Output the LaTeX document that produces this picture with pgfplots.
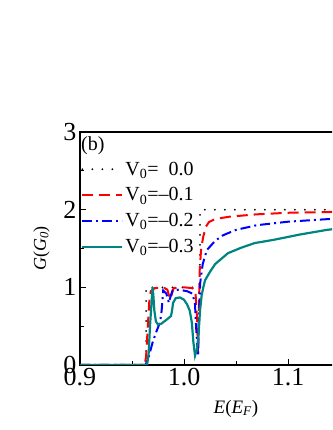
\documentclass[border=0pt]{standalone}
\usepackage{fontspec}
\setmainfont{Liberation Serif}
\usepackage{pgfplots}
\pgfplotsset{compat=1.18}
\definecolor{tealc}{RGB}{0,132,130}

\begin{document}
\begin{tikzpicture}
\useasboundingbox (-80pt,-65pt) rectangle (252pt,365pt);
\clip (-80pt,-65pt) rectangle (252pt,365pt);
\begin{axis}[
at={(0pt,0pt)},anchor=south west,
scale only axis,
width=312pt,height=233pt,
xmin=0.9,xmax=1.2,
ymin=0,ymax=3,
xtick={0.9,1.0,1.1},
xticklabels={0.9,1.0,1.1},
ytick={0,1,2,3},
minor xtick={0.95,1.05},
minor ytick={0.5,1.5,2.5},
tick align=inside,
xtick pos=bottom,ytick pos=left,
major tick length=6pt,minor tick length=3.5pt,
axis line style={line width=1.2pt},
every tick/.style={line width=1pt,black},
tick label style={font=\fontsize{26}{26}\selectfont},
/pgf/number format/assume math mode=true,
xlabel={\textit{E}(\textit{E}\textsubscript{\textit{F}})},
ylabel={\textit{G}(\textit{G}\textsubscript{\textit{0}})},
xlabel style={font=\fontsize{19}{19}\selectfont,yshift=-7pt},
ylabel style={font=\fontsize{18}{18}\selectfont,yshift=7pt},
legend cell align=left,
legend style={draw=none,fill=none,font=\fontsize{20}{20}\selectfont,
  at={(rel axis cs:0,0.89)},anchor=north west,
  row sep=7pt,inner xsep=1pt},
legend image code/.code={\draw[#1] (0pt,0pt) -- (40pt,0pt);},
]
\addplot[black,line width=2pt,line cap=round,dash pattern=on 0pt off 10pt] coordinates {
(0.9,0)(0.9635,0)(0.9636,1)(1.0153,1)(1.0154,2)(1.2,2)
};
\addplot[red,line width=2pt,dash pattern=on 11pt off 6pt] coordinates {
(0.9,0)(0.962,0)(0.9635,0.1)(0.965,0.45)(0.9665,0.8)(0.968,0.95)(0.972,0.99)(0.98,1.0)
(0.984,0.97)(0.9865,0.85)(0.988,0.9)(0.99,0.99)(1.0,1.0)(1.008,0.99)(1.011,0.95)
(1.0125,0.6)(1.0135,0.15)(1.0142,0.6)(1.015,1.2)(1.0165,1.5)(1.0185,1.65)(1.021,1.78)
(1.024,1.84)(1.03,1.88)(1.044,1.91)(1.07,1.94)(1.1,1.96)(1.14,1.97)(1.2,1.98)
};
\addplot[blue,line width=2pt,dash pattern=on 10pt off 4pt on 2pt off 4pt] coordinates {
(0.9,0)(0.963,0)(0.966,0.1)(0.97,0.3)(0.974,0.45)(0.977,0.55)(0.9785,0.7)(0.98,0.96)
(0.983,0.92)(0.9855,0.8)(0.987,0.88)(0.989,0.96)(0.995,0.97)(1.003,0.95)(1.008,0.92)
(1.0105,0.8)(1.012,0.4)(1.0135,0.12)(1.0145,0.6)(1.0155,1.05)(1.018,1.3)(1.022,1.48)
(1.03,1.6)(1.0375,1.67)(1.05,1.74)(1.07,1.80)(1.1,1.845)(1.14,1.88)(1.2,1.91)
};
\addplot[tealc,line width=2.2pt] coordinates {
(0.9,0)(0.9645,0)(0.966,0.15)(0.9673,0.5)(0.969,0.85)(0.9698,1.0)(0.9705,0.9)
(0.9715,0.7)(0.973,0.56)(0.975,0.52)(0.978,0.53)(0.982,0.57)(0.9875,0.63)(0.9885,0.7)
(0.9895,0.8)(0.992,0.86)(0.996,0.87)(1.0,0.84)(1.003,0.78)(1.0055,0.7)(1.0075,0.55)
(1.009,0.3)(1.0106,0.12)(1.0125,0.2)(1.014,0.4)(1.0154,0.7)(1.017,0.9)(1.0186,1.0)
(1.0202,1.09)(1.025,1.2)(1.03,1.3)(1.0423,1.44)(1.055,1.51)(1.068,1.57)(1.0856,1.61)
(1.1115,1.68)(1.1375,1.74)(1.17,1.79)(1.2,1.83)
};
\legend{V\textsubscript{0}=\phantom{–}0.0,V\textsubscript{0}=–0.1,V\textsubscript{0}=–0.2,V\textsubscript{0}=–0.3}
\node[anchor=north west,font=\fontsize{20}{20}\selectfont,inner sep=1pt] at (rel axis cs:0,0.985) {(b)};
\end{axis}
\end{tikzpicture}
\end{document}
